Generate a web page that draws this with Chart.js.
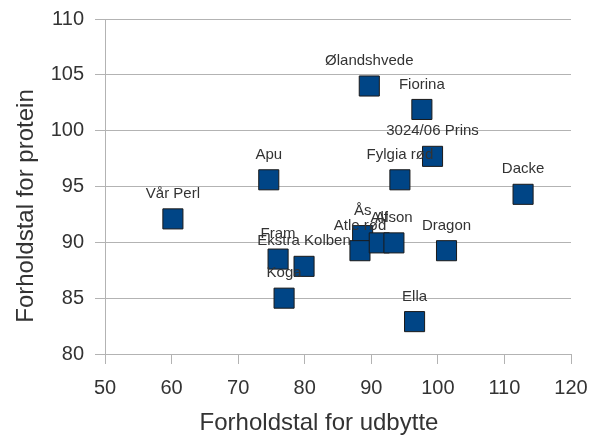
<!DOCTYPE html>
<html>
<head>
<meta charset="utf-8">
<script src="https://cdn.jsdelivr.net/npm/chart.js@4/dist/chart.umd.min.js"></script>
<style>
html,body{margin:0;padding:0;background:#fff;}
canvas{display:block;}
</style>
</head>
<body>
<canvas id="c" width="595" height="435"></canvas>
<script>
const names = ["Vår Perl","Apu","Ølandshvede","Fiorina","3024/06 Prins","Fylgia rød","Dacke","Dragon","Ella","Koga","Fram","Ekstra Kolben","Ås","Atle rød","Alf","Alson"];
const xValues = [60.2, 74.6, 89.7, 97.6, 99.2, 94.3, 112.8, 101.3, 96.5, 76.9, 76.0, 79.9, 88.7, 88.3, 91.2, 93.4];
const yValues = [92.1, 95.6, 104.0, 101.9, 97.7, 95.6, 94.3, 89.25, 82.9, 85.0, 88.5, 87.85, 90.6, 89.25, 89.95, 89.95];
const xTickRange = {min: 50, max: 120, step: 10};
const yTickRange = {min: 80, max: 110, step: 5};
const xTitle = "Forholdstal for udbytte";
const yTitle = "Forholdstal for protein";

const points = xValues.map((x, i) => ({x: x, y: yValues[i]}));
const FONT = "'Liberation Sans', Arial, sans-serif";

const labelPlugin = {
  id: 'labels',
  afterDatasetsDraw(chart) {
    const ctx = chart.ctx;
    const xs = chart.scales.x, ys = chart.scales.y;
    ctx.save();
    ctx.font = "15px " + FONT;
    ctx.fillStyle = "#333333";
    ctx.textAlign = "center";
    ctx.textBaseline = "middle";
    names.forEach((n, i) => {
      ctx.fillText(n, xs.getPixelForValue(xValues[i]), ys.getPixelForValue(yValues[i]) - 25);
    });
    ctx.font = "24px " + FONT;
    ctx.textBaseline = "alphabetic";
    ctx.fillText(xTitle, 319, 430);
    ctx.translate(32.5, 206);
    ctx.rotate(-Math.PI / 2);
    ctx.fillText(yTitle, 0, 0);
    ctx.restore();
  }
};

new Chart(document.getElementById('c'), {
  type: 'scatter',
  data: {
    datasets: [{
      data: points,
      pointStyle: 'rect',
      pointRadius: 14.2,
      pointHoverRadius: 14.2,
      backgroundColor: '#004586',
      borderColor: '#1a1a1a',
      borderWidth: 1
    }]
  },
  options: {
    responsive: false,
    animation: false,
    devicePixelRatio: 1,
    layout: {padding: {left: 0, top: 19, right: 24, bottom: 0}},
    plugins: {legend: {display: false}, tooltip: {enabled: false}},
    scales: {
      x: {
        type: 'linear',
        min: xTickRange.min, max: xTickRange.max,
        ticks: {stepSize: xTickRange.step, font: {size: 20, family: FONT}, color: '#333333', padding: 12},
        grid: {drawOnChartArea: false, tickLength: 10, color: '#b3b3b3'},
        border: {color: '#b3b3b3'},
        afterFit: s => { s.height = 81; s.paddingLeft = 0; s.paddingRight = 0; }
      },
      y: {
        type: 'linear',
        min: yTickRange.min, max: yTickRange.max,
        ticks: {stepSize: yTickRange.step, font: {size: 20, family: FONT}, color: '#333333', padding: 11},
        grid: {tickLength: 10, color: '#b3b3b3'},
        border: {color: '#b3b3b3'},
        afterFit: s => { s.width = 105; s.paddingTop = 0; s.paddingBottom = 0; }
      }
    }
  },
  plugins: [labelPlugin]
});
</script>
</body>
</html>
